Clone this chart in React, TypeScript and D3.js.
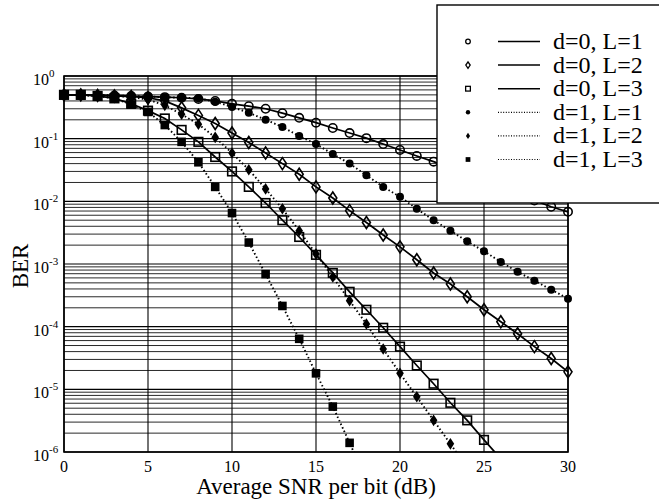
import React from "react";
import * as d3 from "d3";

const snr = [0,1,2,3,4,5,6,7,8,9,10,11,12,13,14,15,16,17,18,19,20,21,22,23,24,25,26,27,28,29,30];

const berD0L1 = [0.5,0.5,0.49,0.49,0.48,0.47,0.46,0.45,0.43,0.40,0.36,0.33,0.30,0.255,0.215,0.18,0.148,0.123,0.102,0.082,0.066,0.053,0.043,0.034,0.027,0.021,0.0166,0.0132,0.0103,0.0082,0.0068];
const berD0L2 = [0.5,0.5,0.49,0.48,0.47,0.45,0.40,0.31,0.235,0.175,0.123,0.087,0.059,0.040,0.027,0.017,0.0113,0.0071,0.0046,0.0029,0.00188,0.00117,0.00072,0.00048,0.00030,0.000186,0.00012,7.7e-5,4.8e-5,3.1e-5,1.9e-5];
const berD0L3 = [0.5,0.5,0.48,0.44,0.36,0.28,0.21,0.138,0.089,0.051,0.030,0.017,0.0094,0.0050,0.0027,0.0014,0.00072,0.00036,0.000186,9.6e-5,4.8e-5,2.4e-5,1.23e-5,6.1e-6,3.2e-6,1.56e-6,7.8e-7];
const berD1L1 = [0.5,0.5,0.5,0.49,0.48,0.47,0.46,0.45,0.44,0.39,0.32,0.26,0.20,0.154,0.11,0.082,0.057,0.040,0.026,0.017,0.0118,0.0076,0.0050,0.0034,0.0023,0.0016,0.00108,0.00075,0.00054,0.00039,0.00028];
const berD1L2 = [0.5,0.5,0.49,0.48,0.46,0.42,0.34,0.245,0.17,0.105,0.059,0.032,0.0158,0.0076,0.0034,0.00145,0.00062,0.00026,0.00011,4.4e-5,1.8e-5,7.6e-6,3.2e-6,1.35e-6,5.6e-7];
const berD1L3 = [0.5,0.49,0.48,0.44,0.35,0.267,0.165,0.089,0.042,0.017,0.0065,0.0022,0.00069,0.000214,6.4e-5,1.8e-5,5.3e-6,1.4e-6,3.6e-7];

const seriesLabels = ["d=0, L=1","d=0, L=2","d=0, L=3","d=1, L=1","d=1, L=2","d=1, L=3"];
const seriesValues = [berD0L1, berD0L2, berD0L3, berD1L1, berD1L2, berD1L3];
const seriesMarkers = ["openCircle","openDiamond","openSquare","filledCircle","filledDiamond","filledSquare"];
const seriesDotted = [false,false,false,true,true,true];

const xTicks = [0,5,10,15,20,25,30];
const yDecades = [0,-1,-2,-3,-4,-5,-6];

const FONT = '"Liberation Serif", "Times New Roman", Times, "DejaVu Serif", serif';

function Marker({ kind, cx, cy, s }: { kind: string; cx: number; cy: number; s: number }) {
  const sw = 1.6 * Math.max(s, 0.8);
  switch (kind) {
    case "openCircle":
      return <circle cx={cx} cy={cy} r={4.2 * s} fill="none" stroke="#000" strokeWidth={sw} />;
    case "filledCircle":
      return <circle cx={cx} cy={cy} r={4 * s} fill="#000" />;
    case "openDiamond": {
      const w = 4 * s, h = 6 * s;
      return <path d={`M${cx},${cy - h}L${cx + w},${cy}L${cx},${cy + h}L${cx - w},${cy}Z`} fill="none" stroke="#000" strokeWidth={sw} />;
    }
    case "filledDiamond": {
      const w = 3.8 * s, h = 5.8 * s;
      return <path d={`M${cx},${cy - h}L${cx + w},${cy}L${cx},${cy + h}L${cx - w},${cy}Z`} fill="#000" />;
    }
    case "openSquare": {
      const a = 4.3 * s;
      return <rect x={cx - a} y={cy - a} width={2 * a} height={2 * a} fill="none" stroke="#000" strokeWidth={sw} />;
    }
    default: {
      const a = 4.3 * s;
      return <rect x={cx - a} y={cy - a} width={2 * a} height={2 * a} fill="#000" />;
    }
  }
}

export default function App() {
  const W = 659, H = 502;
  const left = 64, right = 568, top = 76, bottom = 452;
  const x = d3.scaleLinear().domain([0, 30]).range([left, right]);
  const y = d3.scaleLog().domain([1e-6, 1]).range([bottom, top]);

  const minor: number[] = [];
  for (let dcd = -6; dcd < 0; dcd++) {
    for (let k = 2; k <= 9; k++) minor.push(k * Math.pow(10, dcd));
  }

  const line = d3
    .line<number>()
    .x((_, i) => x(snr[i]))
    .y((v) => y(v));

  const legX = 437, legY = 5;
  const rowY = (i: number) => 41.5 + i * 23.6;
  const txt = { fontFamily: FONT, fill: "#000" } as React.CSSProperties;

  return (
    <svg width={W} height={H} style={{ position: "absolute", left: 0, top: 0, background: "#fff" }}>
      <defs>
        <clipPath id="plotClip">
          <rect x={left} y={top} width={right - left} height={bottom - top} />
        </clipPath>
        <clipPath id="markClip">
          <rect x={40} y={50} width={560} height={bottom - 50} />
        </clipPath>
      </defs>
      <rect x={0} y={0} width={W} height={H} fill="#fff" />
      {/* grid */}
      {minor.map((v, i) => (
        <line key={"m" + i} x1={left} x2={right} y1={y(v)} y2={y(v)} stroke="#111" strokeWidth={0.9} />
      ))}
      {yDecades.map((dcd) => (
        <line key={"d" + dcd} x1={left} x2={right} y1={y(Math.pow(10, dcd))} y2={y(Math.pow(10, dcd))} stroke="#000" strokeWidth={1.1} />
      ))}
      {xTicks.map((t) => (
        <line key={"v" + t} x1={x(t)} x2={x(t)} y1={top} y2={bottom} stroke="#000" strokeWidth={1.1} />
      ))}
      <rect x={left} y={top} width={right - left} height={bottom - top} fill="none" stroke="#000" strokeWidth={1.6} />

      {/* series */}
      <g clipPath="url(#plotClip)">
        {seriesValues.map((vals, si) => (
          <path
            key={"l" + si}
            d={line(vals) || ""}
            fill="none"
            stroke="#000"
            strokeWidth={seriesDotted[si] ? 1.9 : 1.7}
            strokeDasharray={seriesDotted[si] ? "1.5 2.4" : undefined}
          />
        ))}
      </g>
      <g clipPath="url(#markClip)">
        {seriesValues.map((vals, si) =>
          vals.map((v, i) => (
            <Marker key={"p" + si + "-" + i} kind={seriesMarkers[si]} cx={x(snr[i])} cy={y(v)} s={1} />
          ))
        )}
      </g>

      {/* y tick labels */}
      {yDecades.map((dcd) => (
        <text key={"yt" + dcd} x={33} y={y(Math.pow(10, dcd)) + 9} fontSize={16} style={txt}>
          10
          <tspan dy={-8} fontSize={11}>{dcd === 0 ? "0" : "-" + Math.abs(dcd)}</tspan>
        </text>
      ))}
      {/* x tick labels */}
      {xTicks.map((t) => (
        <text key={"xt" + t} x={x(t)} y={472} fontSize={16} textAnchor="middle" style={txt}>
          {t}
        </text>
      ))}
      <text x={(left + right) / 2} y={494} fontSize={23} textAnchor="middle" style={txt}>
        Average SNR per bit (dB)
      </text>
      <text transform={`translate(28,266) rotate(-90)`} fontSize={23} textAnchor="middle" style={txt}>
        BER
      </text>

      {/* legend */}
      <rect x={legX} y={legY} width={240} height={198} fill="#fff" stroke="#000" strokeWidth={1.4} />
      {seriesLabels.map((lab, i) => (
        <g key={"lg" + i}>
          <Marker kind={seriesMarkers[i]} cx={468} cy={rowY(i)} s={0.55} />
          <line
            x1={498}
            x2={540}
            y1={rowY(i)}
            y2={rowY(i)}
            stroke="#000"
            strokeWidth={seriesDotted[i] ? 1.2 : 1.5}
            strokeDasharray={seriesDotted[i] ? "1 1.6" : undefined}
          />
          <text x={553} y={rowY(i) + 7.5} fontSize={24} style={txt}>
            {lab}
          </text>
        </g>
      ))}
    </svg>
  );
}
